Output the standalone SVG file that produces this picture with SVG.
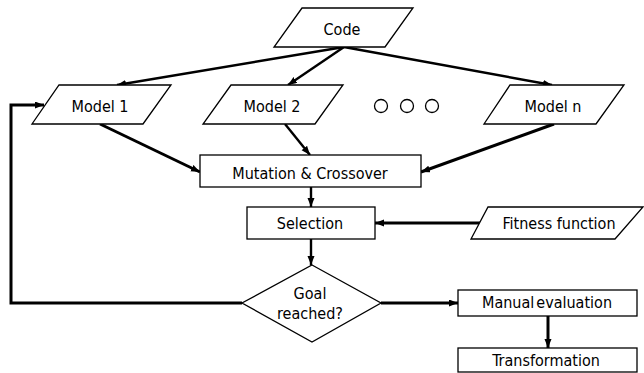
<svg xmlns="http://www.w3.org/2000/svg" width="644" height="373" viewBox="0 0 644 373">
<style>
.shape{fill:#fff;stroke:#000;stroke-width:1.3}
.lbl{font-family:"DejaVu Sans Condensed","DejaVu Sans",Verdana,sans-serif;font-stretch:condensed;font-size:16px;fill:#000;text-anchor:middle}
.conn{fill:none;stroke:#000;stroke-width:2.4}
.thick{stroke-width:3}
</style>
<defs>
<marker id="ah" markerUnits="userSpaceOnUse" markerWidth="10" markerHeight="8" refX="9" refY="3.5" orient="auto">
<path d="M0,0 L9,3.5 L0,7 z" fill="#000"/>
</marker>
</defs>
<g id="connectors">
<line class="conn" x1="344" y1="47" x2="117" y2="85" marker-end="url(#ah)"/>
<line class="conn" x1="344" y1="47" x2="288" y2="85" marker-end="url(#ah)"/>
<line class="conn" x1="344" y1="47" x2="552" y2="85" marker-end="url(#ah)"/>
<line class="conn thick" x1="100" y1="124" x2="200" y2="172" marker-end="url(#ah)"/>
<line class="conn" x1="285" y1="124" x2="310" y2="155" marker-end="url(#ah)"/>
<line class="conn thick" x1="554" y1="124" x2="421" y2="172" marker-end="url(#ah)"/>
<line class="conn" x1="311" y1="187" x2="311" y2="207" marker-end="url(#ah)"/>
<line class="conn" x1="311" y1="239" x2="311" y2="265" marker-end="url(#ah)"/>
<line class="conn thick" x1="490" y1="223" x2="375" y2="223" marker-end="url(#ah)"/>
<line class="conn thick" x1="381" y1="303" x2="458" y2="303" marker-end="url(#ah)"/>
<line class="conn thick" x1="548" y1="316" x2="548" y2="348" marker-end="url(#ah)"/>
<polyline class="conn thick" points="242,303 11,303 11,105 44,105" marker-end="url(#ah)"/>
</g>
<g id="code">
<polygon class="shape" points="302,8 413,8 385,47 274,47"/>
<text class="lbl" x="342" y="35">Code</text>
</g>
<g id="model1">
<polygon class="shape" points="59,85 171,85 143,124 32,124"/>
<text class="lbl" x="100" y="112">Model 1</text>
</g>
<g id="model2">
<polygon class="shape" points="231,85 343,85 315,124 203,124"/>
<text class="lbl" x="272" y="112">Model 2</text>
</g>
<g id="dots">
<circle cx="381" cy="106" r="6.5" fill="none" stroke="#000" stroke-width="1.3"/>
<circle cx="407" cy="106" r="6.5" fill="none" stroke="#000" stroke-width="1.3"/>
<circle cx="432" cy="106" r="6.5" fill="none" stroke="#000" stroke-width="1.3"/>
</g>
<g id="modeln">
<polygon class="shape" points="510,85 624,85 596,124 484,124"/>
<text class="lbl" x="553" y="112">Model n</text>
</g>
<g id="mutation">
<rect class="shape" x="200" y="155" width="221" height="32"/>
<text class="lbl" x="310" y="179">Mutation &amp; Crossover</text>
</g>
<g id="selection">
<rect class="shape" x="247" y="207" width="128" height="32"/>
<text class="lbl" x="310" y="229">Selection</text>
</g>
<g id="fitness">
<polygon class="shape" points="488,207 643,207 615,239 471,239"/>
<text class="lbl" x="559" y="229">Fitness function</text>
</g>
<g id="goal">
<polygon class="shape" points="312,265 381,303 312,342 242,303"/>
<text class="lbl" x="310" y="299">Goal</text>
<text class="lbl" x="310" y="319">reached?</text>
</g>
<g id="manual">
<rect class="shape" x="458" y="290" width="179" height="26"/>
<text class="lbl" x="547" y="308">Manual<tspan dx="2">evaluation</tspan></text>
</g>
<g id="transformation">
<rect class="shape" x="458" y="348" width="179" height="24"/>
<text class="lbl" x="546" y="366">Transformation</text>
</g>
</svg>
